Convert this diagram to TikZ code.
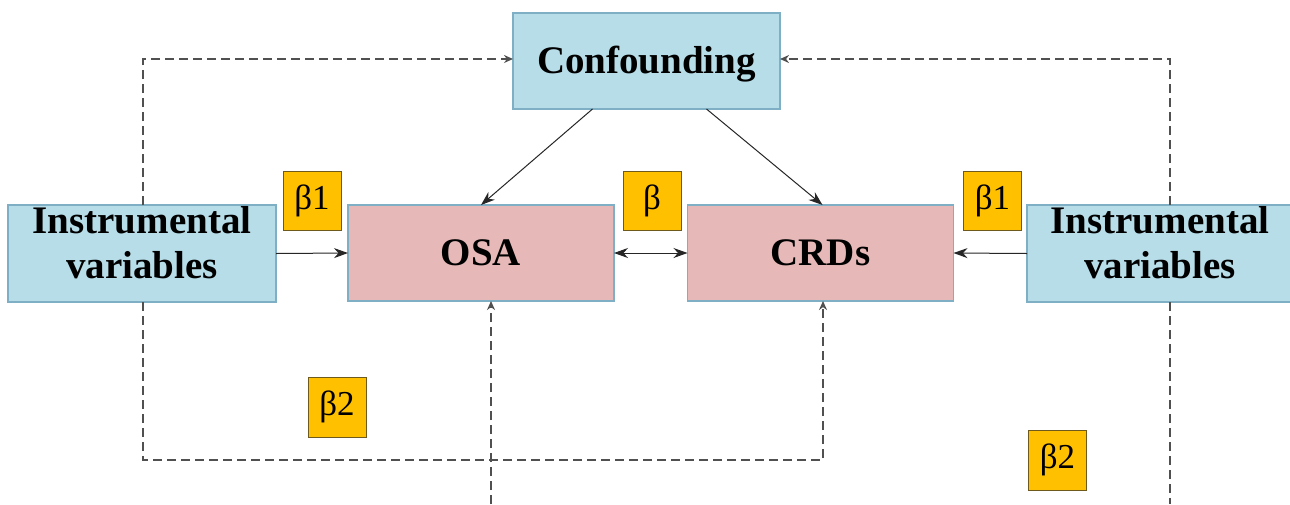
\documentclass[tikz,border=0pt]{standalone}
\usepackage{fontspec}
\setmainfont{Liberation Serif}
\usetikzlibrary{arrows.meta,calc}
\definecolor{boxblue}{HTML}{B7DDE8}
\definecolor{blueedge}{HTML}{7FAFC4}
\definecolor{boxpink}{HTML}{E6B9B8}
\definecolor{boxorange}{HTML}{FFC000}
\definecolor{orangeedge}{HTML}{6F5A1E}
\definecolor{dashgray}{HTML}{505050}
\tikzset{
  bluebox/.style={draw=blueedge,fill=boxblue,line width=1.2pt,inner sep=0pt,outer sep=0pt,align=center,
    font=\fontsize{39}{45}\selectfont\bfseries},
  pinkbox/.style={draw=blueedge,fill=boxpink,line width=1.2pt,inner sep=0pt,outer sep=0pt,
    minimum width=266pt,minimum height=96pt,font=\fontsize{39}{45}\selectfont\bfseries},
  betabox/.style={draw=orangeedge,fill=boxorange,line width=1pt,inner sep=0pt,outer sep=0pt,
    minimum width=58pt,minimum height=59pt,font=\fontsize{35}{40}\selectfont},
  solidarrow/.style={draw=black!85,line width=1pt,-{Stealth[length=14pt,width=10pt]}},
  dasharrow/.style={draw=dashgray,line width=1.6pt,dash pattern=on 9pt off 5pt,-{Stealth[length=9pt,width=8pt]}},
  dashline/.style={draw=dashgray,line width=1.6pt,dash pattern=on 9pt off 5pt},
}
\begin{document}
\begin{tikzpicture}[x=1pt,y=-1pt]
\useasboundingbox (0,0) rectangle (1290,504);
\clip (0,0) rectangle (1290,504);
\fill[white] (0,0) rectangle (1290,504);
% boxes
\node[bluebox,minimum width=267pt,minimum height=96pt,text depth=3pt] (conf) at (646.5,61) {Confounding};
\node[bluebox,minimum width=268pt,minimum height=97pt,text depth=22pt] (ivl) at (142,253.5) {Instrumental\\variables};
\node[pinkbox] (osa) at (481,253) {OSA};
\node[pinkbox] (crd) at (820.5,253) {CRDs};
\node[bluebox,minimum width=266pt,minimum height=97pt,text depth=22pt] (ivr) at (1160,253.5) {Instrumental\\variables};
% beta labels
\node[betabox] (b1l) at (312,200.5) {β1};
\node[betabox] (b) at (652,200.5) {β};
\node[betabox] (b1r) at (992.5,200.5) {β1};
\node[betabox,minimum height=60pt] (b2l) at (337,407) {β2};
\node[betabox,minimum height=60pt] (b2r) at (1057.5,460) {β2};
% solid connectors
\draw[solidarrow] ([xshift=-54pt]conf.south) -- (osa.north);
\draw[solidarrow] ([xshift=60pt]conf.south) -- ([xshift=2pt]crd.north);
\draw[solidarrow] (ivl.east) -- (osa.west);
\draw[solidarrow,{Stealth[length=14pt,width=10pt]}-{Stealth[length=14pt,width=10pt]}] (osa.east) -- (crd.west);
\draw[solidarrow] (ivr.west) -- (crd.east);
% dashed connectors
\draw[dasharrow] ([xshift=1pt]ivl.north) |- ([yshift=2pt]conf.west);
\draw[dasharrow] ([xshift=10pt]ivr.north) |- ([yshift=2pt]conf.east);
\coordinate (turn) at (143,460);
\draw[dasharrow] ([xshift=1pt]ivl.south) -- (turn) -| ([xshift=2.5pt]crd.south);
\coordinate (osabot) at (491,504);
\draw[dasharrow] (osabot) -- (osabot |- osa.south);
\coordinate (ivrbot) at (1170,504);
\draw[dashline] ([xshift=10pt]ivr.south) -- (ivrbot);
\end{tikzpicture}
\end{document}
